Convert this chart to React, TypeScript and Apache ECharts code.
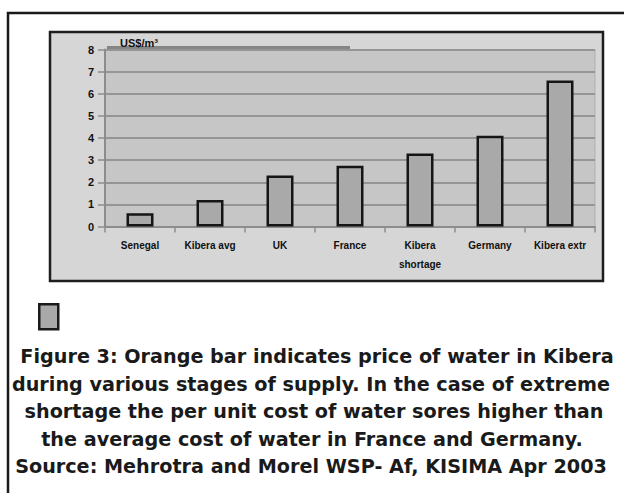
import React, { useEffect, useRef } from "react";
import * as echarts from "echarts";

const categories = [
  "Senegal",
  "Kibera avg",
  "UK",
  "France",
  "Kibera\nshortage",
  "Germany",
  "Kibera extr",
];
const prices = [0.6, 1.2, 2.3, 2.75, 3.3, 4.1, 6.6];
const yTicks = { min: 0, max: 8, interval: 1 };
const unitLabel = "US$/m³";
const captionLines = [
  "Figure 3: Orange bar indicates price of water in Kibera",
  "during various stages of supply. In the case of extreme",
  "shortage the per unit cost of water sores higher than",
  "the average cost of water in France and Germany.",
  "Source: Mehrotra and Morel WSP- Af, KISIMA Apr 2003",
];

export default function App() {
  const ref = useRef<HTMLDivElement>(null);
  useEffect(() => {
    if (!ref.current) return;
    const chart = echarts.init(ref.current, null, { renderer: "svg" });
    const captionY = [356, 384, 411, 439, 466];
    const captionX = [317, 311, 314, 312, 311];
    chart.setOption({
      animation: false,
      backgroundColor: "#ffffff",
      grid: {
        left: 105,
        right: 29,
        top: 49.5,
        bottom: 266.5,
        show: true,
        backgroundColor: "#c6c6c6",
        borderColor: "#b0b0b0",
        borderWidth: 1,
      },
      legend: {
        show: true,
        left: 33,
        top: 298,
        itemWidth: 19,
        itemHeight: 25,
        icon: "rect",
        formatter: () => "",
        selectedMode: false,
        itemStyle: { color: "#a9a9a9", borderColor: "#1a1a1a", borderWidth: 2.5 },
      },
      xAxis: {
        type: "category",
        data: categories,
        boundaryGap: true,
        axisLine: { lineStyle: { color: "#8c8c8c", width: 2 } },
        axisTick: { show: true, length: 6, lineStyle: { color: "#8c8c8c", width: 1.5 } },
        axisLabel: {
          color: "#111",
          fontWeight: "bold",
          fontSize: 10,
          fontFamily: "Liberation Sans, Arial, sans-serif",
          lineHeight: 19,
          margin: 9,
          interval: 0,
        },
      },
      yAxis: {
        type: "value",
        min: yTicks.min,
        max: yTicks.max,
        interval: yTicks.interval,
        axisLine: { show: true, lineStyle: { color: "#8c8c8c", width: 2 } },
        axisTick: { show: true, length: 7, lineStyle: { color: "#8c8c8c", width: 1.5 } },
        splitLine: { show: true, lineStyle: { color: "#959595", width: 2 } },
        axisLabel: {
          color: "#111",
          fontWeight: "bold",
          fontSize: 11,
          fontFamily: "Liberation Sans, Arial, sans-serif",
          margin: 11,
        },
      },
      series: [
        {
          name: "Price of water",
          type: "bar",
          data: prices,
          barWidth: 27,
          itemStyle: { color: "#a9a9a9", borderColor: "#151515", borderWidth: 2.5 },
        },
      ],
      graphic: [
        {
          type: "rect",
          z: -10,
          shape: { x: 8, y: 13, width: 700, height: 600 },
          style: { fill: "none", stroke: "#1a1a1a", lineWidth: 2.5 },
        },
        {
          type: "rect",
          z: -9,
          shape: { x: 50, y: 32, width: 553, height: 249 },
          style: { fill: "#d6d6d6", stroke: "#1e1e1e", lineWidth: 2.5 },
        },
        {
          type: "line",
          z: 5,
          shape: { x1: 107, y1: 47.5, x2: 350, y2: 47.5 },
          style: { stroke: "#858585", lineWidth: 3 },
        },
        {
          type: "text",
          z: 6,
          x: 120,
          y: 37,
          style: {
            text: unitLabel,
            fill: "#111",
            font: "bold 11px Liberation Sans, Arial, sans-serif",
          },
        },
        ...captionLines.map((t, i) => ({
          type: "text",
          x: captionX[i],
          y: captionY[i],
          style: {
            text: t,
            fill: "#1a1a1a",
            font: "bold 19.2px 'DejaVu Sans', sans-serif",
            textAlign: "center",
            textVerticalAlign: "middle",
          },
        })),
      ],
    });
    return () => chart.dispose();
  }, []);
  return (
    <div
      ref={ref}
      style={{ position: "fixed", left: 0, top: 0, width: 624, height: 493 }}
    />
  );
}
